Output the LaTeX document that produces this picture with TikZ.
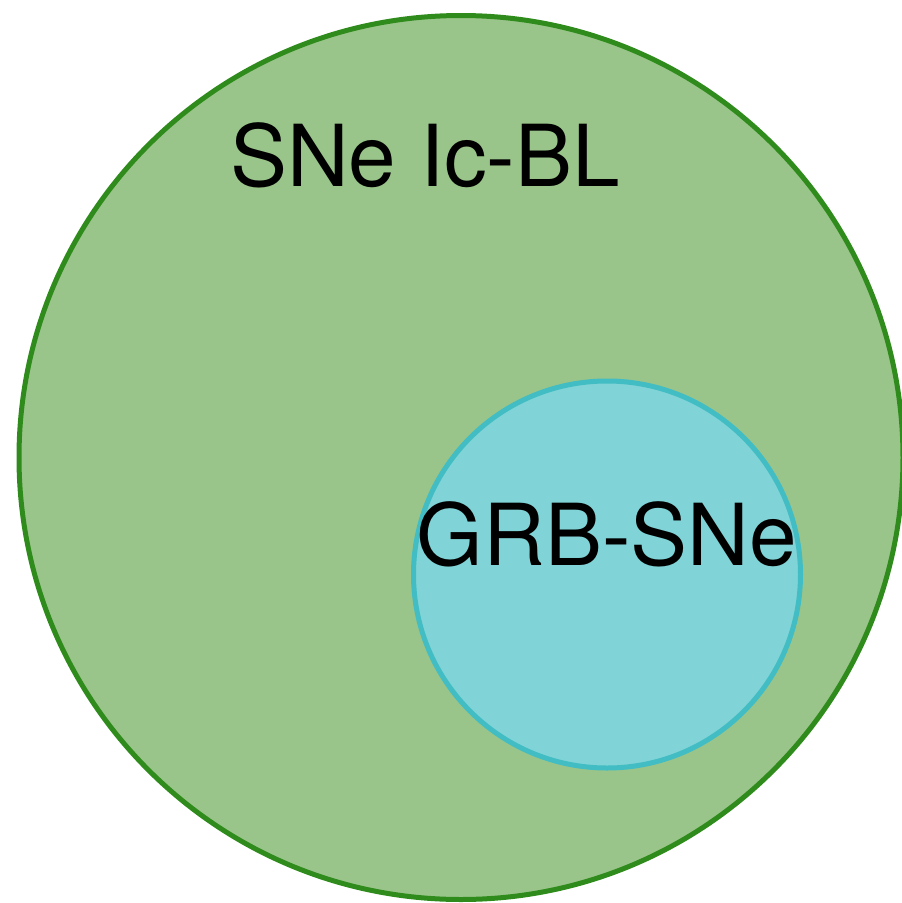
\documentclass[tikz,border=0pt]{standalone}
\usepackage{fontspec}
\setmainfont{TeX Gyre Heros}
\definecolor{bigfill}{HTML}{9AC58A}
\definecolor{bigdraw}{HTML}{2F8C1C}
\definecolor{smallfill}{HTML}{80D3D6}
\definecolor{smalldraw}{HTML}{42BDC4}
\begin{document}
\begin{tikzpicture}[x=1pt,y=-1pt,
  setcircle/.style={circle,inner sep=0pt,line width=5pt},
  lbl/.style={anchor=base,inner sep=0pt,font=\fontsize{85.5}{90}\selectfont}]
\useasboundingbox (0,0) rectangle (902,903);
\node[setcircle,draw=bigdraw,fill=bigfill,minimum size=884pt] (big) at (461,457.5) {};
\node[setcircle,draw=smalldraw,fill=smallfill,minimum size=387pt] (small) at (607,574.5) {};
\node[lbl] (biglbl) at (425,186) {SNe Ic-BL};
\node[lbl] (smalllbl) at (607,565) {GRB-SNe};
\end{tikzpicture}
\end{document}
